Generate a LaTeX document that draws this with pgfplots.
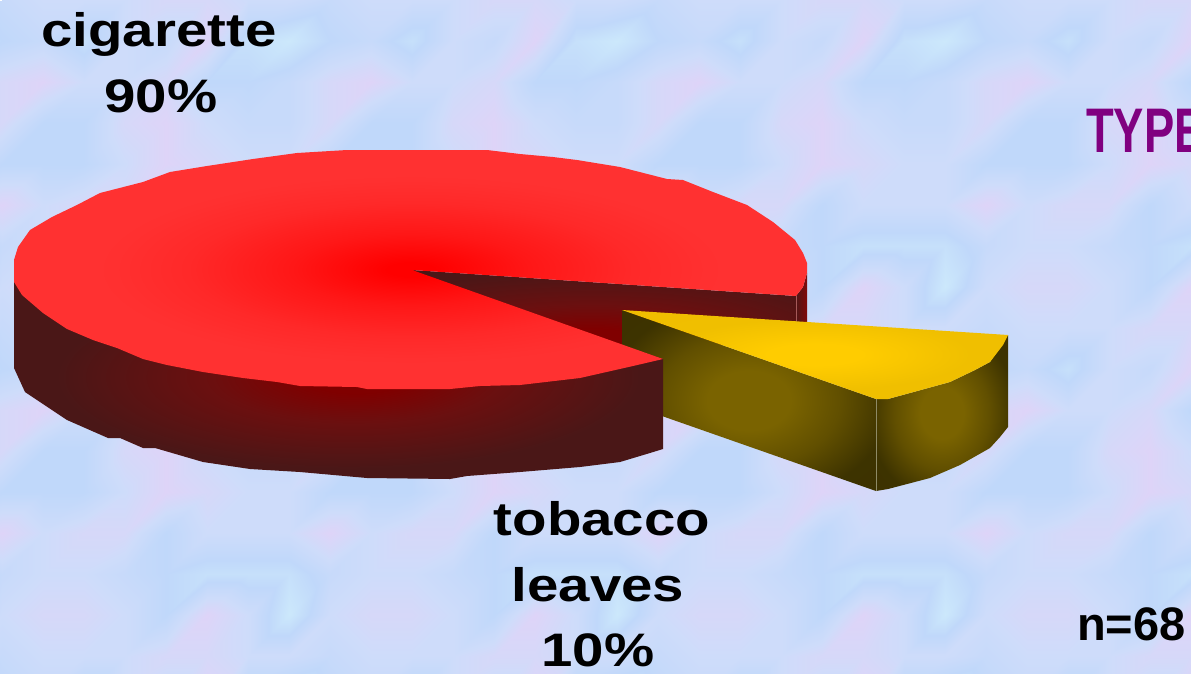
\documentclass[border=0pt]{standalone}
\usepackage{fontspec}
\usepackage{pgfplots}
\pgfplotsset{compat=1.18}
\setmainfont{Liberation Sans}
\newfontfamily\lab[FakeStretch=1.2]{Liberation Sans}
\newfontfamily\cond[FakeStretch=0.72]{Liberation Sans}
\definecolor{tit}{RGB}{128,0,128}
\definecolor{rimd}{RGB}{80,22,22}
\definecolor{riml}{RGB}{130,10,10}
\pgfdeclareradialshading{topred}{\pgfpoint{0bp}{0bp}}{
 rgb(0bp)=(1,0,0); rgb(1.5bp)=(1,0,0); rgb(7.5bp)=(1,0.09,0.09); rgb(14bp)=(1,0.16,0.16);
 rgb(19bp)=(1,0.19,0.19); rgb(37.5bp)=(1,0.2,0.2)}
\pgfdeclareradialshading{sidered}{\pgfpoint{1.5bp}{0bp}}{
 rgb(0bp)=(0.5,0,0); rgb(4bp)=(0.5,0,0); rgb(11bp)=(0.42,0.06,0.06); rgb(22.5bp)=(0.29,0.09,0.09); rgb(45bp)=(0.29,0.09,0.09)}
\pgfdeclareradialshading{wallred}{\pgfpoint{-2bp}{-22bp}}{
 rgb(0bp)=(0.5,0,0); rgb(6bp)=(0.5,0,0); rgb(17.5bp)=(0.42,0.06,0.06); rgb(35bp)=(0.29,0.09,0.09); rgb(65bp)=(0.27,0.09,0.09)}
\pgfdeclareradialshading{topyel}{\pgfpoint{0bp}{0bp}}{
 rgb(0bp)=(1,0.8,0); rgb(6bp)=(1,0.8,0); rgb(20bp)=(0.94,0.75,0); rgb(37.5bp)=(0.94,0.74,0)}
\pgfdeclareradialshading{sideyel}{\pgfpoint{0bp}{0bp}}{
 rgb(0bp)=(0.48,0.39,0); rgb(8bp)=(0.48,0.39,0); rgb(18bp)=(0.38,0.31,0); rgb(28bp)=(0.24,0.2,0); rgb(40bp)=(0.24,0.19,0)}
\begin{document}
\begin{tikzpicture}
\useasboundingbox (0,0) rectangle (1191pt,673pt);
\clip (0,0) rectangle (1191pt,673pt);
% background texture
\begin{axis}[at={(0,0)},anchor=south west,scale only axis,width=1191pt,height=673pt,
  xmin=0,xmax=1191,ymin=0,ymax=673,y dir=reverse,hide axis,
  colormap={bgtex}{rgb255=(204,232,251) rgb255=(192,216,250) rgb255=(206,220,250) rgb255=(222,212,248)},
  point meta min=0,point meta max=3]
\addplot[surf,shader=interp,mesh/cols=36,point meta=explicit] table[row sep=\\,header=false,
  x expr={-203.5+41*mod(\coordindex,36)},y expr={-41.5+41*floor(\coordindex/36)},meta index=0] {
2\\1\\3\\2\\0\\2\\2.5\\2.5\\2\\1\\3\\2\\0\\2\\2.5\\2.5\\2\\1\\3\\2\\0\\2\\2.5\\2.5\\2\\1\\3\\2\\0\\2\\2.5\\2.5\\2\\1\\3\\2\\
2\\2.5\\2.5\\2\\2\\1.5\\2\\2\\2\\2.5\\2.5\\2\\2\\1.5\\2\\2\\2\\2.5\\2.5\\2\\2\\1.5\\2\\2\\2\\2.5\\2.5\\2\\2\\1.5\\2\\2\\2\\2.5\\2.5\\2\\
2\\1.5\\3\\.5\\0\\1\\1.5\\.5\\2\\1.5\\3\\.5\\0\\1\\1.5\\.5\\2\\1.5\\3\\.5\\0\\1\\1.5\\.5\\2\\1.5\\3\\.5\\0\\1\\1.5\\.5\\2\\1.5\\3\\.5\\
2\\2.5\\1\\1\\1.5\\2.5\\3\\2\\2\\2.5\\1\\1\\1.5\\2.5\\3\\2\\2\\2.5\\1\\1\\1.5\\2.5\\3\\2\\2\\2.5\\1\\1\\1.5\\2.5\\3\\2\\2\\2.5\\1\\1\\
2.5\\3\\2\\1.5\\1.5\\2.5\\1\\1\\2.5\\3\\2\\1.5\\1.5\\2.5\\1\\1\\2.5\\3\\2\\1.5\\1.5\\2.5\\1\\1\\2.5\\3\\2\\1.5\\1.5\\2.5\\1\\1\\2.5\\3\\2\\1.5\\
2\\3\\2.5\\2\\2\\1\\1\\1\\2\\3\\2.5\\2\\2\\1\\1\\1\\2\\3\\2.5\\2\\2\\1\\1\\1\\2\\3\\2.5\\2\\2\\1\\1\\1\\2\\3\\2.5\\2\\
2.5\\1\\2\\2\\2\\3\\2\\2.5\\2.5\\1\\2\\2\\2\\3\\2\\2.5\\2.5\\1\\2\\2\\2\\3\\2\\2.5\\2.5\\1\\2\\2\\2\\3\\2\\2.5\\2.5\\1\\2\\2\\
1.5\\1\\.5\\.5\\.5\\1.5\\2\\2\\1.5\\1\\.5\\.5\\.5\\1.5\\2\\2\\1.5\\1\\.5\\.5\\.5\\1.5\\2\\2\\1.5\\1\\.5\\.5\\.5\\1.5\\2\\2\\1.5\\1\\.5\\.5\\
2\\1\\3\\2\\0\\2\\2.5\\2.5\\2\\1\\3\\2\\0\\2\\2.5\\2.5\\2\\1\\3\\2\\0\\2\\2.5\\2.5\\2\\1\\3\\2\\0\\2\\2.5\\2.5\\2\\1\\3\\2\\
2\\2.5\\2.5\\2\\2\\1.5\\2\\2\\2\\2.5\\2.5\\2\\2\\1.5\\2\\2\\2\\2.5\\2.5\\2\\2\\1.5\\2\\2\\2\\2.5\\2.5\\2\\2\\1.5\\2\\2\\2\\2.5\\2.5\\2\\
2\\1.5\\3\\.5\\0\\1\\1.5\\.5\\2\\1.5\\3\\.5\\0\\1\\1.5\\.5\\2\\1.5\\3\\.5\\0\\1\\1.5\\.5\\2\\1.5\\3\\.5\\0\\1\\1.5\\.5\\2\\1.5\\3\\.5\\
2\\2.5\\1\\1\\1.5\\2.5\\3\\2\\2\\2.5\\1\\1\\1.5\\2.5\\3\\2\\2\\2.5\\1\\1\\1.5\\2.5\\3\\2\\2\\2.5\\1\\1\\1.5\\2.5\\3\\2\\2\\2.5\\1\\1\\
2.5\\3\\2\\1.5\\1.5\\2.5\\1\\1\\2.5\\3\\2\\1.5\\1.5\\2.5\\1\\1\\2.5\\3\\2\\1.5\\1.5\\2.5\\1\\1\\2.5\\3\\2\\1.5\\1.5\\2.5\\1\\1\\2.5\\3\\2\\1.5\\
2\\3\\2.5\\2\\2\\1\\1\\1\\2\\3\\2.5\\2\\2\\1\\1\\1\\2\\3\\2.5\\2\\2\\1\\1\\1\\2\\3\\2.5\\2\\2\\1\\1\\1\\2\\3\\2.5\\2\\
2.5\\1\\2\\2\\2\\3\\2\\2.5\\2.5\\1\\2\\2\\2\\3\\2\\2.5\\2.5\\1\\2\\2\\2\\3\\2\\2.5\\2.5\\1\\2\\2\\2\\3\\2\\2.5\\2.5\\1\\2\\2\\
1.5\\1\\.5\\.5\\.5\\1.5\\2\\2\\1.5\\1\\.5\\.5\\.5\\1.5\\2\\2\\1.5\\1\\.5\\.5\\.5\\1.5\\2\\2\\1.5\\1\\.5\\.5\\.5\\1.5\\2\\2\\1.5\\1\\.5\\.5\\
2\\1\\3\\2\\0\\2\\2.5\\2.5\\2\\1\\3\\2\\0\\2\\2.5\\2.5\\2\\1\\3\\2\\0\\2\\2.5\\2.5\\2\\1\\3\\2\\0\\2\\2.5\\2.5\\2\\1\\3\\2\\
2\\2.5\\2.5\\2\\2\\1.5\\2\\2\\2\\2.5\\2.5\\2\\2\\1.5\\2\\2\\2\\2.5\\2.5\\2\\2\\1.5\\2\\2\\2\\2.5\\2.5\\2\\2\\1.5\\2\\2\\2\\2.5\\2.5\\2\\
2\\1.5\\3\\.5\\0\\1\\1.5\\.5\\2\\1.5\\3\\.5\\0\\1\\1.5\\.5\\2\\1.5\\3\\.5\\0\\1\\1.5\\.5\\2\\1.5\\3\\.5\\0\\1\\1.5\\.5\\2\\1.5\\3\\.5\\
};
\end{axis}
% pie and texts
\begin{axis}[at={(0,0)},anchor=south west,scale only axis,width=1191pt,height=673pt,
  xmin=0,xmax=1191,ymin=0,ymax=673,y dir=reverse,hide axis,clip=true]
% wall of the cut and small rim
\addplot[shading=wallred,draw=none] coordinates {(412,270)(796,296)(796,345)(560,345)} -- cycle;
\addplot[left color=rimd,right color=riml,draw=none] coordinates {(796,296)(803,287)(807,273)(807,325)(796,325)} -- cycle;
\addplot[color=gray!70!red,line width=0.5pt] coordinates {(796,296)(796,323)};
% yellow slice
\addplot[shading=sideyel,draw=none] coordinates {(622,310)(876,399)(876,491)(622,402)} -- cycle;
\addplot[shading=sideyel,draw=none] coordinates {(876,399)(888,399)(910,393)(950,382)(975,370)(990,362)(1008,335)(1008,427)(1000,437)(990,448)(960,465)(930,478)(888,489)(876,491)} -- cycle;
\addplot[shading=topyel,draw=none] coordinates {(622,310)(1008,335)(1003,345)(990,362)(975,370)(950,382)(910,393)(888,399)(876,399)} -- cycle;
\addplot[color=gray!60!yellow!70!black,line width=0.6pt] coordinates {(876,399)(876,491)};
% red side
\addplot[shading=sidered,draw=none] coordinates {(14,282)(412,275)(663,359)(663,449)(650,453)(620,462)(580,467)(520,472)(467,476)(450,479)(367,478)(300,472)(250,469)(203,462)(155,448)(143,448)(120,438)(108,438)(67,420)(25,392)(14,368)} -- cycle;
% red top
\addplot[shading=topred,draw=none] coordinates {(412,270)(663,359)(633,366)(580,378)(520,385)(480,386)(450,389)(367,389)(357,387)(300,386)(277,382)(243,378)(203,372)(167,365)(143,359)(117,348)(93,340)(67,329)(43,313)(22,295)(14,282)(14,260)(18,247)(30,230)(52,217)(77,205)(100,193)(143,182)(170,172)(207,166)(253,159)(297,153)(347,150)(487,150)(520,154)(553,157)(577,160)(620,167)(667,179)(683,180)(713,192)(747,205)(773,222)(795,240)(803,253)(807,263)(807,273)(803,287)(796,296)} -- cycle;
% labels
\node[anchor=base,font=\lab\bfseries\fontsize{47}{56}\selectfont] at (axis cs:159,46) {cigarette};
\node[anchor=base,font=\lab\bfseries\fontsize{47}{56}\selectfont] at (axis cs:161,112) {90\%};
\node[anchor=base,font=\lab\bfseries\fontsize{47}{56}\selectfont] at (axis cs:602,535) {tobacco};
\node[anchor=base,font=\lab\bfseries\fontsize{47}{56}\selectfont] at (axis cs:598,601) {leaves};
\node[anchor=base,font=\lab\bfseries\fontsize{47}{56}\selectfont] at (axis cs:598,666) {10\%};
\node[anchor=base west,inner sep=0pt,font=\bfseries\fontsize{47}{56}\selectfont] at (axis cs:1077,640) {n=68};
\node[anchor=base west,inner sep=0pt,text=tit,font=\cond\bfseries\fontsize{63}{70}\selectfont] at (axis cs:1086,152) {TYPE};
\end{axis}
\end{tikzpicture}
\end{document}
